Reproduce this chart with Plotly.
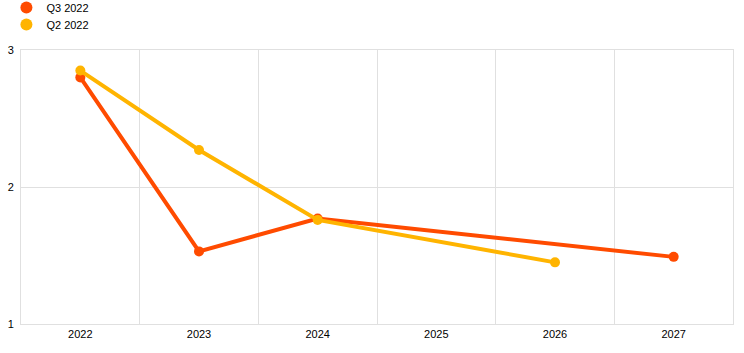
import plotly.graph_objects as go

years = ["2022", "2023", "2024", "2025", "2026", "2027"]
q3_2022 = [2.80, 1.53, 1.77, None, None, 1.49]
q2_2022 = [2.85, 2.27, 1.76, None, 1.45, None]
series_names = ["Q3 2022", "Q2 2022"]
colors = ["#ff4b00", "#ffb400"]
legend_ids = ["legend", "legend2"]

fig = go.Figure()
for name, vals, col, lg in zip(series_names, [q3_2022, q2_2022], colors, legend_ids):
    fig.add_trace(go.Scatter(x=years, y=vals, mode="lines+markers", name=name,
                             connectgaps=True, showlegend=False,
                             line=dict(color=col, width=4),
                             marker=dict(color=col, size=10)))
    fig.add_trace(go.Scatter(x=[None], y=[None], mode="markers", name=name,
                             legend=lg, marker=dict(color=col, size=11)))

leg_common = dict(xref="paper", yref="paper", xanchor="left",
                  yanchor="top", orientation="v", font=dict(size=11),
                  itemsizing="constant", itemwidth=30,
                  bgcolor="rgba(0,0,0,0)")

fig.update_layout(
    width=744, height=353,
    margin=dict(l=21, r=11, t=50, b=29, autoexpand=False),
    paper_bgcolor="white", plot_bgcolor="white",
    font=dict(family="Liberation Sans, Arial, sans-serif", size=11, color="#000"),
    legend=dict(x=-0.0205, y=1.208, **leg_common),
    legend2=dict(x=-0.0205, y=1.146, **leg_common),
    xaxis=dict(type="category", categoryorder="array", categoryarray=years,
               tickson="boundaries", showgrid=True, gridcolor="#e0e0e0",
               showline=True, linecolor="#e0e0e0", linewidth=1, mirror=True,
               ticks="", range=[-0.5, 5.5], ticklen=0),
    yaxis=dict(range=[1, 3], tickvals=[1, 2, 3], showgrid=True,
               gridcolor="#e0e0e0", showline=True, linecolor="#e0e0e0",
               mirror=True, zeroline=False, ticks="", ticklabelstandoff=4),
)

fig.write_html("out.html", config={"displayModeBar": False},
               post_script="document.body.style.margin='0px';")
